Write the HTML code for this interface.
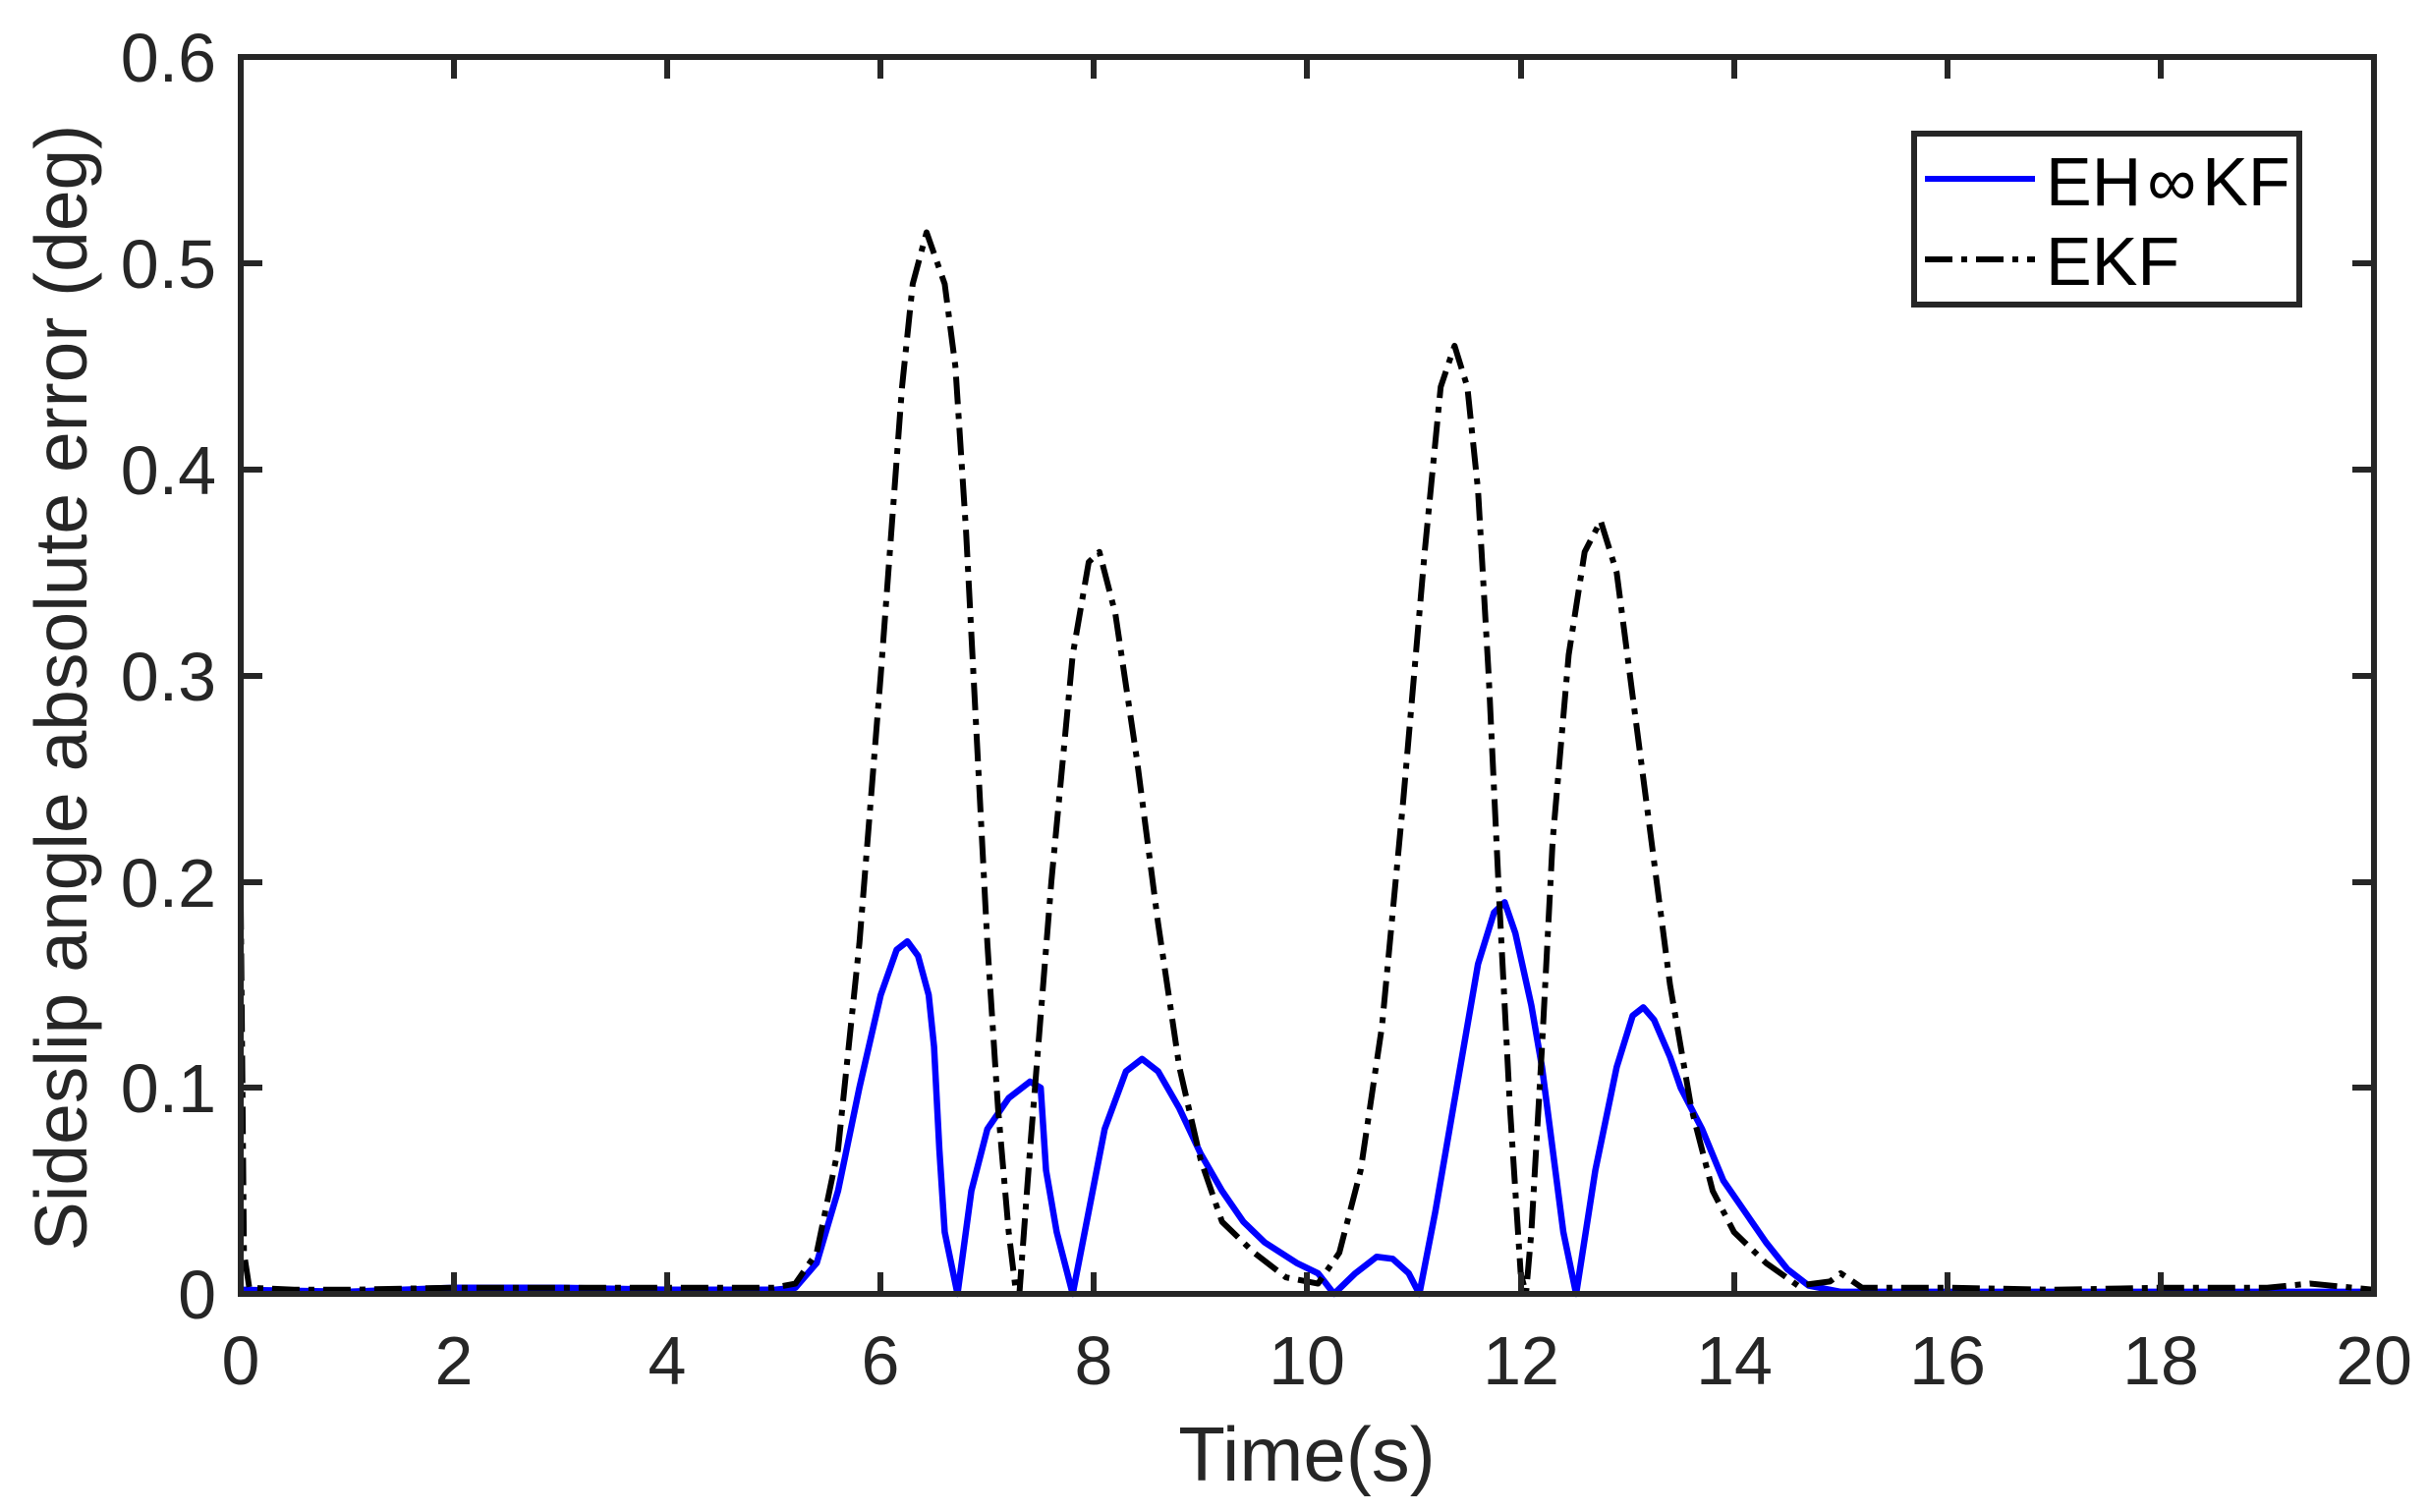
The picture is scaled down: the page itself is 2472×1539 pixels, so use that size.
<!DOCTYPE html>
<html><head><meta charset="utf-8"><style>
html,body{margin:0;padding:0;background:#fff;}
svg{display:block;font-family:"Liberation Sans",Arial,sans-serif;}
</style></head><body>
<svg width="2472" height="1539" viewBox="0 0 2472 1539" xmlns="http://www.w3.org/2000/svg">
<rect width="2472" height="1539" fill="#fff"/>
<g transform="translate(245,1317) scale(108.55,-2098)" fill="none" stroke-linejoin="round">
<path vector-effect="non-scaling-stroke" stroke="#0000ff" stroke-width="6.5" d="M0,0.002 L1,0.001 L2,0.003 L3,0.003 L4,0.002 L5,0.002 L5.2,0.003 L5.4,0.015 L5.6,0.05 L5.8,0.10 L6.0,0.145 L6.15,0.167 L6.25,0.171 L6.35,0.164 L6.45,0.145 L6.5,0.12 L6.55,0.07 L6.6,0.03 L6.72,0 L6.85,0.05 L7.0,0.08 L7.2,0.095 L7.4,0.103 L7.5,0.1 L7.55,0.06 L7.65,0.03 L7.8,0 L7.95,0.04 L8.1,0.08 L8.3,0.108 L8.45,0.114 L8.6,0.108 L8.8,0.09 L9.0,0.068 L9.2,0.05 L9.4,0.035 L9.6,0.025 L9.9,0.015 L10.1,0.01 L10.25,0 L10.45,0.01 L10.65,0.018 L10.8,0.017 L10.95,0.01 L11.05,0 L11.2,0.04 L11.4,0.1 L11.6,0.16 L11.75,0.185 L11.85,0.19 L11.95,0.175 L12.1,0.14 L12.2,0.11 L12.3,0.07 L12.4,0.03 L12.52,0 L12.7,0.06 L12.9,0.11 L13.05,0.135 L13.15,0.139 L13.25,0.133 L13.4,0.115 L13.5,0.1 L13.7,0.08 L13.9,0.055 L14.1,0.04 L14.3,0.025 L14.5,0.012 L14.7,0.004 L15,0.001 L20,0.001"/>
<path vector-effect="non-scaling-stroke" stroke="#000" stroke-width="6" stroke-dasharray="28,9,6,9" d="M0,0.19 L0.03,0.02 L0.08,0.003 L0.5,0.002 L1,0.002 L2,0.003 L3,0.003 L4,0.003 L5,0.003 L5.2,0.005 L5.4,0.02 L5.6,0.07 L5.8,0.17 L6.0,0.30 L6.2,0.44 L6.3,0.49 L6.43,0.515 L6.6,0.49 L6.7,0.45 L6.8,0.37 L6.9,0.27 L7.0,0.17 L7.1,0.09 L7.2,0.03 L7.27,0 L7.3,0 L7.4,0.07 L7.6,0.20 L7.8,0.31 L7.95,0.355 L8.05,0.36 L8.2,0.33 L8.4,0.26 L8.6,0.18 L8.8,0.11 L9.0,0.065 L9.2,0.035 L9.5,0.02 L9.8,0.008 L10.1,0.005 L10.3,0.02 L10.5,0.06 L10.7,0.13 L10.9,0.24 L11.1,0.36 L11.25,0.44 L11.38,0.46 L11.5,0.44 L11.6,0.39 L11.7,0.30 L11.8,0.19 L11.9,0.09 L12.0,0.01 L12.05,0 L12.1,0.03 L12.2,0.12 L12.3,0.22 L12.45,0.31 L12.6,0.36 L12.75,0.375 L12.9,0.35 L13.0,0.31 L13.2,0.23 L13.4,0.15 L13.6,0.09 L13.8,0.05 L14.0,0.03 L14.3,0.015 L14.6,0.004 L14.9,0.006 L15.0,0.01 L15.2,0.003 L16,0.003 L17,0.002 L18,0.003 L19,0.003 L19.4,0.005 L20,0.002"/>
</g>
<g stroke="#262626" stroke-width="6" fill="none">
<rect x="245" y="58" width="2171" height="1259"/>
<path d="M462,1317v-22M679,1317v-22M896,1317v-22M1113,1317v-22M1330,1317v-22M1548,1317v-22M1765,1317v-22M1982,1317v-22M2199,1317v-22
M462,58v22M679,58v22M896,58v22M1113,58v22M1330,58v22M1548,58v22M1765,58v22M1982,58v22M2199,58v22
M245,1107h22M245,898h22M245,688h22M245,478h22M245,268h22
M2416,1107h-22M2416,898h-22M2416,688h-22M2416,478h-22M2416,268h-22"/>
</g>
<g fill="#262626" font-size="70" text-anchor="end">
<text x="220" y="1342">0</text>
<text x="220" y="1132">0.1</text>
<text x="220" y="923">0.2</text>
<text x="220" y="713">0.3</text>
<text x="220" y="503">0.4</text>
<text x="220" y="293">0.5</text>
<text x="220" y="83">0.6</text>
</g>
<g fill="#262626" font-size="70" text-anchor="middle">
<text x="245" y="1409">0</text><text x="462" y="1409">2</text><text x="679" y="1409">4</text><text x="896" y="1409">6</text><text x="1113" y="1409">8</text><text x="1330" y="1409">10</text><text x="1548" y="1409">12</text><text x="1765" y="1409">14</text><text x="1982" y="1409">16</text><text x="2199" y="1409">18</text><text x="2416" y="1409">20</text>
<text x="1330" y="1507" font-size="78">Time(s)</text>
<text transform="translate(88,700) rotate(-90)" font-size="75">Sideslip angle absolute error (deg)</text>
</g>
<rect x="1948" y="136" width="392" height="174" fill="#fff" stroke="#262626" stroke-width="6"/>
<line x1="1959" y1="182" x2="2071" y2="182" stroke="#0000ff" stroke-width="6"/>
<line x1="1959" y1="264" x2="2071" y2="264" stroke="#000" stroke-width="6" stroke-dasharray="28,9,6,9"/>
<text x="2082" y="209" font-size="70" fill="#000">EH<tspan dx="6">∞</tspan><tspan dx="6">KF</tspan></text>
<text x="2082" y="290" font-size="70" fill="#000">EKF</text>
</svg>
</body></html>
